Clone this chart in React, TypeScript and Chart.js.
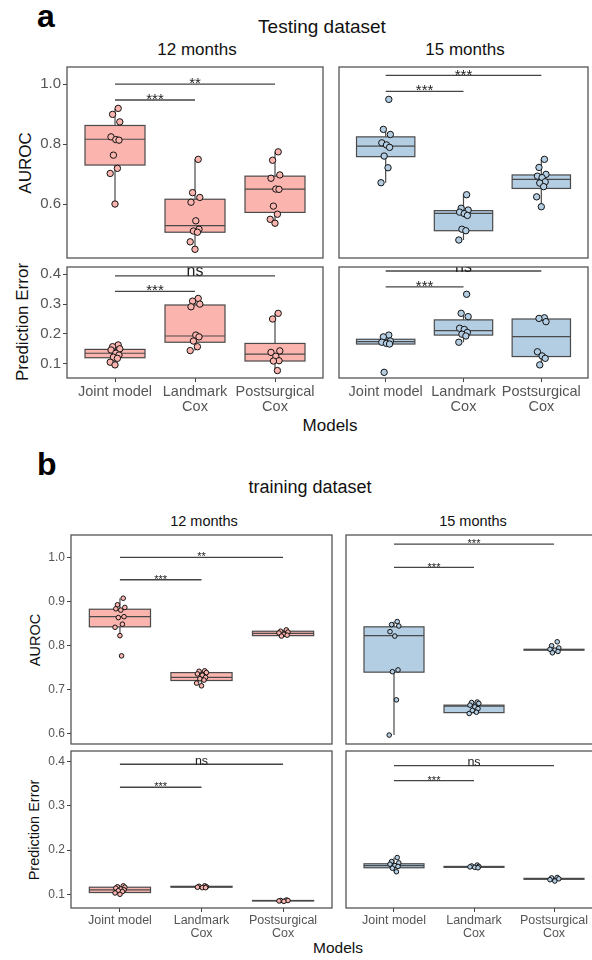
import React, { useEffect, useRef } from 'react';
import { Chart, registerables } from 'chart.js';
Chart.register(...registerables);

const FONT = '"Liberation Sans", Arial, Helvetica, sans-serif';

// ---------- categories / ticks ----------
const MODEL_LABELS: (string | string[])[] = ['Joint model', ['Landmark', 'Cox'], ['Postsurgical', 'Cox']];
const AUROC_TICKS_TEST = [0.6, 0.8, 1.0];
const AUROC_TICKS_TRAIN = [0.6, 0.7, 0.8, 0.9, 1.0];
const PE_TICKS = [0.1, 0.2, 0.3, 0.4];
const JITTER = [0.04, -0.03, 0.06, -0.05, 0.01, 0.05, -0.02, 0.03, -0.06, 0.0, 0.02];

// ---------- a: testing dataset ----------
// box stats: [whiskerLow, q1, median, q3, whiskerHigh]
const TEST12_AUROC_PTS = [
  [0.919, 0.899, 0.874, 0.824, 0.815, 0.813, 0.763, 0.719, 0.702, 0.6],
  [0.749, 0.638, 0.622, 0.606, 0.544, 0.516, 0.51, 0.506, 0.474, 0.449],
  [0.774, 0.746, 0.697, 0.686, 0.65, 0.649, 0.593, 0.566, 0.549, 0.536],
];
const TEST12_AUROC_BOX = [
  [0.6, 0.73, 0.816, 0.862, 0.919],
  [0.449, 0.506, 0.528, 0.616, 0.749],
  [0.536, 0.572, 0.65, 0.693, 0.774],
];
const TEST12_AUROC_SIG = [{ to: 1, y: 0.947, label: '***' }, { to: 2, y: 1.0, label: '**' }];

const TEST15_AUROC_PTS = [
  [0.949, 0.849, 0.832, 0.804, 0.797, 0.789, 0.76, 0.721, 0.671],
  [0.631, 0.586, 0.58, 0.573, 0.568, 0.562, 0.516, 0.511, 0.48],
  [0.749, 0.722, 0.699, 0.693, 0.688, 0.674, 0.67, 0.658, 0.624, 0.591],
];
const TEST15_AUROC_BOX = [
  [0.671, 0.758, 0.793, 0.824, 0.849],
  [0.48, 0.511, 0.569, 0.578, 0.631],
  [0.591, 0.652, 0.682, 0.697, 0.749],
];
const TEST15_AUROC_SIG = [{ to: 1, y: 0.976, label: '***' }, { to: 2, y: 1.029, label: '***' }];

const TEST12_PE_PTS = [
  [0.163, 0.157, 0.15, 0.146, 0.135, 0.129, 0.122, 0.118, 0.105, 0.096],
  [0.319, 0.31, 0.3, 0.291, 0.196, 0.19, 0.176, 0.157, 0.144],
  [0.269, 0.25, 0.143, 0.138, 0.125, 0.11, 0.109, 0.077],
];
const TEST12_PE_BOX = [
  [0.096, 0.12, 0.135, 0.148, 0.163],
  [0.144, 0.172, 0.193, 0.297, 0.319],
  [0.077, 0.109, 0.132, 0.168, 0.269],
];
const TEST12_PE_SIG = [{ to: 1, y: 0.343, label: '***' }, { to: 2, y: 0.395, label: 'ns' }];

const TEST15_PE_PTS = [
  [0.196, 0.19, 0.176, 0.172, 0.168, 0.166, 0.071],
  [0.333, 0.269, 0.258, 0.219, 0.215, 0.205, 0.199, 0.193, 0.172],
  [0.254, 0.252, 0.241, 0.14, 0.126, 0.118, 0.096],
];
const TEST15_PE_BOX = [
  [0.166, 0.166, 0.174, 0.182, 0.196],
  [0.172, 0.196, 0.211, 0.247, 0.269],
  [0.096, 0.124, 0.191, 0.25, 0.254],
];
const TEST15_PE_SIG = [{ to: 1, y: 0.358, label: '***' }, { to: 2, y: 0.411, label: 'ns' }];

// ---------- b: training dataset ----------
const TRAIN12_AUROC_PTS = [
  [0.907, 0.892, 0.886, 0.883, 0.88, 0.865, 0.863, 0.848, 0.841, 0.822, 0.776],
  [0.742, 0.741, 0.738, 0.735, 0.732, 0.727, 0.724, 0.721, 0.714, 0.708],
  [0.835, 0.832, 0.83, 0.828, 0.825, 0.823, 0.821],
];
const TRAIN12_AUROC_BOX = [
  [0.822, 0.842, 0.865, 0.882, 0.907],
  [0.708, 0.72, 0.727, 0.738, 0.742],
  [0.821, 0.822, 0.827, 0.832, 0.835],
];
const TRAIN12_AUROC_SIG = [{ to: 1, y: 0.949, label: '***' }, { to: 2, y: 1.0, label: '**' }];

const TRAIN15_AUROC_PTS = [
  [0.854, 0.847, 0.844, 0.831, 0.821, 0.744, 0.74, 0.676, 0.596],
  [0.671, 0.67, 0.668, 0.664, 0.66, 0.656, 0.652, 0.648, 0.645],
  [0.808, 0.799, 0.794, 0.791, 0.789, 0.786, 0.783],
];
const TRAIN15_AUROC_BOX = [
  [0.596, 0.739, 0.822, 0.842, 0.854],
  [0.645, 0.647, 0.662, 0.664, 0.671],
  [0.788, 0.789, 0.79, 0.791, 0.792],
];
const TRAIN15_AUROC_SIG = [{ to: 1, y: 0.977, label: '***' }, { to: 2, y: 1.03, label: '***' }];

const TRAIN12_PE_PTS = [
  [0.119, 0.117, 0.116, 0.114, 0.112, 0.11, 0.108, 0.106, 0.103, 0.1],
  [0.119, 0.118, 0.117, 0.116, 0.115, 0.115],
  [0.087, 0.086, 0.086, 0.085, 0.084],
];
const TRAIN12_PE_BOX = [
  [0.1, 0.104, 0.11, 0.116, 0.119],
  [0.115, 0.116, 0.117, 0.118, 0.119],
  [0.084, 0.085, 0.0855, 0.086, 0.087],
];
const TRAIN12_PE_SIG = [{ to: 1, y: 0.342, label: '***' }, { to: 2, y: 0.394, label: 'ns' }];

const TRAIN15_PE_PTS = [
  [0.183, 0.174, 0.171, 0.168, 0.165, 0.163, 0.159, 0.151],
  [0.166, 0.164, 0.163, 0.162, 0.161, 0.16],
  [0.138, 0.137, 0.135, 0.133, 0.13],
];
const TRAIN15_PE_BOX = [
  [0.151, 0.16, 0.165, 0.169, 0.183],
  [0.16, 0.161, 0.162, 0.163, 0.166],
  [0.13, 0.134, 0.135, 0.136, 0.138],
];
const TRAIN15_PE_SIG = [{ to: 1, y: 0.357, label: '***' }, { to: 2, y: 0.391, label: 'ns' }];

const PINK = '#FBB4AE';
const BLUE = '#B3CDE3';

type Sig = { to: number; y: number; label: string };
type PanelProps = {
  left: number; top: number; width: number; height: number;
  yMin: number; yMax: number; yTicks: number[];
  showY: boolean; showX: boolean;
  pts: number[][]; boxes: number[][]; sigs: Sig[];
  color: string; radius: number;
  yFont: number; xFont: number; starFont: number; nsFont: number;
  clipSig: boolean;
};

const TOP_PAD = 16;
const RIGHT_PAD = 2;
const LEFT_M = 60;
const BOTTOM_M = 50;
const BOTTOM_PAD = 12;

function Panel(p: PanelProps) {
  const ref = useRef<HTMLCanvasElement>(null);
  const leftM = p.showY ? LEFT_M : 0;
  const cw = leftM + p.width + RIGHT_PAD;
  const ch = TOP_PAD + p.height + (p.showX ? BOTTOM_M : BOTTOM_PAD);

  useEffect(() => {
    const boxPlugin = {
      id: 'boxes',
      beforeDatasetsDraw(chart: any) {
        const { ctx } = chart;
        const x = chart.scales.x, y = chart.scales.y;
        const half = 0.375;
        p.boxes.forEach((b, i) => {
          const [lo, q1, med, q3, hi] = b;
          const cx = x.getPixelForValue(i);
          const l = x.getPixelForValue(i - half);
          const r = x.getPixelForValue(i + half);
          const t = y.getPixelForValue(q3);
          const bt = y.getPixelForValue(q1);
          ctx.save();
          ctx.strokeStyle = '#4a4a4a';
          ctx.lineWidth = 1.2;
          ctx.beginPath();
          ctx.moveTo(cx, y.getPixelForValue(hi));
          ctx.lineTo(cx, t);
          ctx.moveTo(cx, bt);
          ctx.lineTo(cx, y.getPixelForValue(lo));
          ctx.stroke();
          ctx.fillStyle = p.color;
          ctx.fillRect(l, t, r - l, bt - t);
          ctx.strokeRect(l, t, r - l, bt - t);
          const m = y.getPixelForValue(med);
          ctx.beginPath();
          ctx.moveTo(l, m);
          ctx.lineTo(r, m);
          ctx.stroke();
          ctx.restore();
        });
      },
      afterDatasetsDraw(chart: any) {
        const { ctx, chartArea } = chart;
        const x = chart.scales.x, y = chart.scales.y;
        ctx.save();
        if (p.clipSig) {
          ctx.beginPath();
          ctx.rect(chartArea.left, chartArea.top, chartArea.right - chartArea.left, chartArea.bottom - chartArea.top);
          ctx.clip();
        }
        p.sigs.forEach((s) => {
          const x0 = x.getPixelForValue(0);
          const x1 = x.getPixelForValue(s.to);
          const yy = y.getPixelForValue(s.y);
          ctx.strokeStyle = '#444';
          ctx.lineWidth = 1.3;
          ctx.beginPath();
          ctx.moveTo(x0, yy);
          ctx.lineTo(x1, yy);
          ctx.stroke();
          ctx.fillStyle = '#222';
          ctx.textAlign = 'center';
          ctx.textBaseline = 'alphabetic';
          if (s.label === 'ns') {
            ctx.font = `${p.nsFont}px ${FONT}`;
            ctx.fillText(s.label, (x0 + x1) / 2, yy + 0.5);
          } else {
            ctx.font = `${p.starFont}px ${FONT}`;
            ctx.fillText(s.label, (x0 + x1) / 2, yy + p.starFont * 0.28);
          }
        });
        ctx.restore();
        ctx.save();
        ctx.strokeStyle = '#555';
        ctx.lineWidth = 1.3;
        ctx.strokeRect(chartArea.left, chartArea.top, chartArea.right - chartArea.left, chartArea.bottom - chartArea.top);
        ctx.restore();
      },
    };

    const datasets = p.pts.map((vals, i) => ({
      data: vals.map((v, k) => ({ x: i + JITTER[k % JITTER.length], y: v })),
      pointRadius: p.radius,
      pointBackgroundColor: p.color,
      pointBorderColor: '#111',
      pointBorderWidth: 1,
      showLine: false,
    }));

    const chart = new Chart(ref.current as HTMLCanvasElement, {
      type: 'scatter',
      data: { datasets },
      plugins: [boxPlugin],
      options: {
        responsive: false,
        animation: false,
        devicePixelRatio: 1,
        layout: { padding: { left: 0, right: RIGHT_PAD, top: TOP_PAD, bottom: p.showX ? 0 : BOTTOM_PAD } },
        plugins: { legend: { display: false }, tooltip: { enabled: false } },
        scales: {
          x: {
            type: 'linear',
            min: -0.6,
            max: 2.6,
            display: p.showX,
            afterBuildTicks: (s: any) => { s.ticks = [0, 1, 2].map((v) => ({ value: v })); },
            ...(p.showX ? { afterFit: (s: any) => { s.height = BOTTOM_M; } } : {}),
            ticks: {
              autoSkip: false, maxRotation: 0, minRotation: 0, padding: 2,
              color: '#555',
              font: { family: FONT, size: p.xFont, lineHeight: 1.05 },
              callback: (v: any) => MODEL_LABELS[Math.round(Number(v))] as any,
            },
            grid: { display: true, drawOnChartArea: false, drawTicks: true, tickLength: 4, color: '#444', lineWidth: 1 },
            border: { display: false },
          },
          y: {
            type: 'linear',
            min: p.yMin,
            max: p.yMax,
            display: p.showY,
            afterBuildTicks: (s: any) => { s.ticks = p.yTicks.map((v) => ({ value: v })); },
            ...(p.showY ? { afterFit: (s: any) => { s.width = LEFT_M; } } : {}),
            ticks: {
              autoSkip: false, padding: 2, color: '#555',
              font: { family: FONT, size: p.yFont },
              callback: (v: any) => Number(v).toFixed(1),
            },
            grid: { display: true, drawOnChartArea: false, drawTicks: true, tickLength: 4, color: '#444', lineWidth: 1 },
            border: { display: false },
          },
        },
      } as any,
    });
    return () => chart.destroy();
  }, []);

  return (
    <canvas
      ref={ref}
      width={cw}
      height={ch}
      style={{ position: 'absolute', left: p.left - leftM, top: p.top - TOP_PAD, width: cw, height: ch }}
    />
  );
}

function Label(props: { x: number; y: number; size: number; bold?: boolean; rotate?: boolean; color?: string; text: string }) {
  return (
    <div
      style={{
        position: 'absolute', left: props.x, top: props.y,
        transform: `translate(-50%, -50%)${props.rotate ? ' rotate(-90deg)' : ''}`,
        fontFamily: FONT, fontSize: props.size, fontWeight: props.bold ? 'bold' : 'normal',
        lineHeight: 1, whiteSpace: 'nowrap', color: props.color || '#111',
      }}
    >
      {props.text}
    </div>
  );
}

export default function App() {
  const aCommon = { yFont: 15, xFont: 14.5, starFont: 15, nsFont: 16, radius: 3.2 };
  const bCommon = { yFont: 12, xFont: 12.5, starFont: 11, nsFont: 12.5, radius: 2.3 };
  const aAur = { yMin: 0.42, yMax: 1.057, yTicks: AUROC_TICKS_TEST, top: 67, height: 191 };
  const aPe = { yMin: 0.052, yMax: 0.4245, yTicks: PE_TICKS, top: 267, height: 111 };
  const bAur = { yMin: 0.5757, yMax: 1.0507, yTicks: AUROC_TICKS_TRAIN, top: 535, height: 209 };
  const bPe = { yMin: 0.069, yMax: 0.424, yTicks: PE_TICKS, top: 751, height: 157 };
  return (
    <div style={{ position: 'fixed', left: 0, top: 0, width: 592, height: 960, overflow: 'hidden', background: '#fff' }}>
      <div style={{ position: 'absolute', left: 37, top: 0, fontFamily: FONT, fontWeight: 'bold', fontSize: 32, lineHeight: 1, color: '#000' }}>a</div>
      <div style={{ position: 'absolute', left: 37, top: 448, fontFamily: FONT, fontWeight: 'bold', fontSize: 32, lineHeight: 1, color: '#000' }}>b</div>

      <Label x={322} y={26} size={19} text="Testing dataset" />
      <Label x={197} y={49} size={17} text="12 months" />
      <Label x={465} y={49} size={17} text="15 months" />
      <Label x={25} y={163} size={17} rotate text="AUROC" />
      <Label x={22} y={322} size={17} rotate text="Prediction Error" />
      <Label x={330} y={425} size={17} text="Models" />

      <Label x={310} y={487} size={18} text="training dataset" />
      <Label x={204} y={521} size={14.5} text="12 months" />
      <Label x={473} y={521} size={14.5} text="15 months" />
      <Label x={35} y={640} size={14.5} rotate text="AUROC" />
      <Label x={34} y={830} size={14.5} rotate text="Prediction Error" />
      <Label x={338} y={948} size={15.5} text="Models" />

      <Panel {...aCommon} {...aAur} left={67} width={259} showY showX={false} pts={TEST12_AUROC_PTS} boxes={TEST12_AUROC_BOX} sigs={TEST12_AUROC_SIG} color={PINK} clipSig={false} />
      <Panel {...aCommon} {...aAur} left={334} width={257} showY={false} showX={false} pts={TEST15_AUROC_PTS} boxes={TEST15_AUROC_BOX} sigs={TEST15_AUROC_SIG} color={BLUE} clipSig />
      <Panel {...aCommon} {...aPe} left={67} width={259} showY showX pts={TEST12_PE_PTS} boxes={TEST12_PE_BOX} sigs={TEST12_PE_SIG} color={PINK} clipSig={false} />
      <Panel {...aCommon} {...aPe} left={334} width={257} showY={false} showX pts={TEST15_PE_PTS} boxes={TEST15_PE_BOX} sigs={TEST15_PE_SIG} color={BLUE} clipSig />

      <Panel {...bCommon} {...bAur} left={71} width={264} showY showX={false} pts={TRAIN12_AUROC_PTS} boxes={TRAIN12_AUROC_BOX} sigs={TRAIN12_AUROC_SIG} color={PINK} clipSig={false} />
      <Panel {...bCommon} {...bAur} left={341} width={264} showY={false} showX={false} pts={TRAIN15_AUROC_PTS} boxes={TRAIN15_AUROC_BOX} sigs={TRAIN15_AUROC_SIG} color={BLUE} clipSig />
      <Panel {...bCommon} {...bPe} left={71} width={264} showY showX pts={TRAIN12_PE_PTS} boxes={TRAIN12_PE_BOX} sigs={TRAIN12_PE_SIG} color={PINK} clipSig={false} />
      <Panel {...bCommon} {...bPe} left={341} width={264} showY={false} showX pts={TRAIN15_PE_PTS} boxes={TRAIN15_PE_BOX} sigs={TRAIN15_PE_SIG} color={BLUE} clipSig />
    </div>
  );
}
